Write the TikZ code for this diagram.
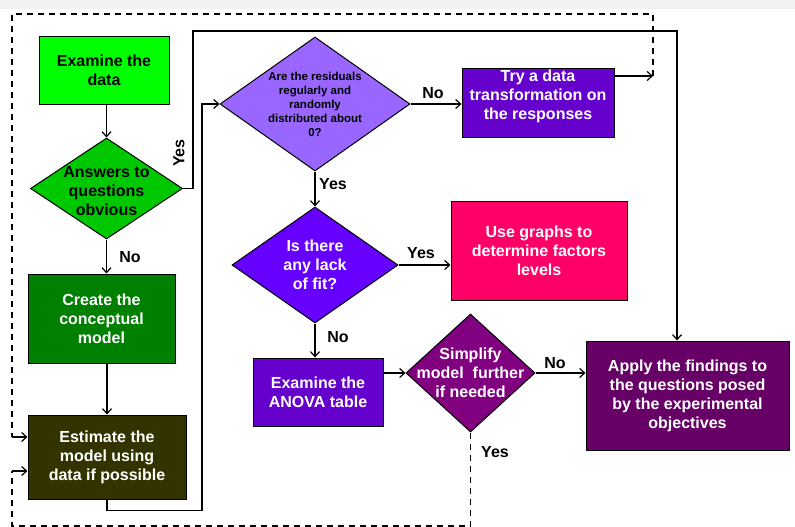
\documentclass[tikz,border=0pt]{standalone}
\usepackage{fontspec}
\setmainfont{Liberation Sans}
\usetikzlibrary{shapes.geometric,arrows.meta}

\begin{document}
\begin{tikzpicture}[x=1pt,y=-1pt,>={Straight Barb[length=5pt,width=9pt]},line width=1.2pt,
  every node/.style={align=center,font=\bfseries\fontsize{16}{19}\selectfont},
  box/.style={draw,rectangle,line width=1pt,inner sep=2pt,text=white},
  diam/.style={draw,diamond,line width=1pt,inner sep=0pt},
  lbl/.style={inner sep=1pt},
  loop/.style={dash pattern=on 6pt off 5pt}]
\useasboundingbox (0,0) rectangle (795,527);
\fill[black!5] (0,0) rectangle (795,9);
% left column
\node[box,fill={rgb,255:red,0;green,255;blue,0},text=black,minimum width=130pt,minimum height=67pt] (data) at (104,70.5) {Examine the\\data};
\node[diam,fill={rgb,255:red,0;green,200;blue,0},minimum width=152pt,minimum height=101pt,
  label={[text=black,yshift=-3pt]center:{Answers to\\questions\\obvious}}] (obvious) at (106.5,188.5) {};
\node[box,fill={rgb,255:red,0;green,128;blue,0},minimum width=147pt,minimum height=89pt] (create) at (101.5,318.5) {Create the\\conceptual\\model};
\node[box,fill={rgb,255:red,51;green,51;blue,0},minimum width=158pt,minimum height=84pt] (estimate) at (107,457) {Estimate the\\model using\\data if possible};
% middle column
\node[diam,fill={rgb,255:red,153;green,102;blue,255},minimum width=190pt,minimum height=134pt,
  label={[text=black,font=\bfseries\fontsize{11.5}{14}\selectfont]center:{Are the residuals\\regularly and\\randomly\\distributed about\\0?}}] (resid) at (315,104) {};
\node[diam,fill={rgb,255:red,102;green,0;blue,255},minimum width=166pt,minimum height=116pt,
  label={[text=white]center:{Is there\\any lack\\of fit?}}] (lack) at (315,265) {};
\node[box,fill={rgb,255:red,102;green,0;blue,204},minimum width=130pt,minimum height=68pt] (anova) at (318,392) {Examine the\\ANOVA table};
\node[diam,fill={rgb,255:red,128;green,0;blue,128},minimum width=129pt,minimum height=118pt,
  label={[text=white]center:{Simplify\\model~ further\\if needed}}] (simp) at (470.5,373) {};
% right column
\node[box,fill={rgb,255:red,102;green,0;blue,204},minimum width=152pt,minimum height=68pt,
  label={[text=white,yshift=7pt]center:{Try a data\\transformation on\\the responses}}] (try) at (538,103) {};
\node[box,fill={rgb,255:red,255;green,0;blue,102},minimum width=176pt,minimum height=99pt] (graphs) at (539,250.5) {Use graphs to\\determine factors\\levels};
\node[box,fill={rgb,255:red,102;green,0;blue,102},minimum width=203pt,minimum height=109pt] (apply) at (687.5,395.5) {Apply the findings to\\the questions posed\\by the experimental\\objectives};
% bends of the connectors
\coordinate (topright) at (677,31);
\coordinate (dashtop) at (653,76);
\coordinate (loopin) at (12,437);
\coordinate (loopback) at (12,471);
\coordinate (bottomright) at (470.5,526);
% connectors
\draw[->] (obvious.north |- data.south)--(obvious.north);
\draw[->] (obvious.south)--(obvious.south |- create.north);
\draw[->] (estimate.north |- create.south)--(estimate.north);
\draw[->] (obvious.east)--++(10,0)|-(topright)--(topright |- apply.north);
\draw[->] (estimate.south)--++(0,11)-|(202,104)--(resid.west);
\draw[->] (resid.east)--(resid.east -| try.west);\draw[->] (resid)--(lack);
\draw[->] (lack.east)--(lack.east -| graphs.west);\draw[->] (lack.south)--(lack.south |- anova.north);
\draw[->] (anova.east |- simp.west)--(simp.west);
\draw[->] (simp.east)--(simp.east -| apply.west);
\draw[->] (try.east |- dashtop)--(dashtop);
\draw[loop] (dashtop)--(653,14)--(12,14)--(loopin);
\draw[->] (loopin)--(loopin -| estimate.west);
\draw[loop] (simp.south)--(bottomright)--(12,526)--(loopback);
\draw[->] (loopback)--(loopback -| estimate.west);
% answers
\node[lbl,rotate=90] (yes1) at (179,153) {Yes};
\node[lbl] (no1) at (130,257) {No};
\node[lbl] (no2) at (433,93) {No};
\node[lbl] (yes2) at (333,184) {Yes};
\node[lbl] (yes3) at (421,253) {Yes};
\node[lbl] (no3) at (338,337) {No};
\node[lbl] (no4) at (555,363) {No};
\node[lbl] (yes4) at (495,452) {Yes};
\end{tikzpicture}
\end{document}
